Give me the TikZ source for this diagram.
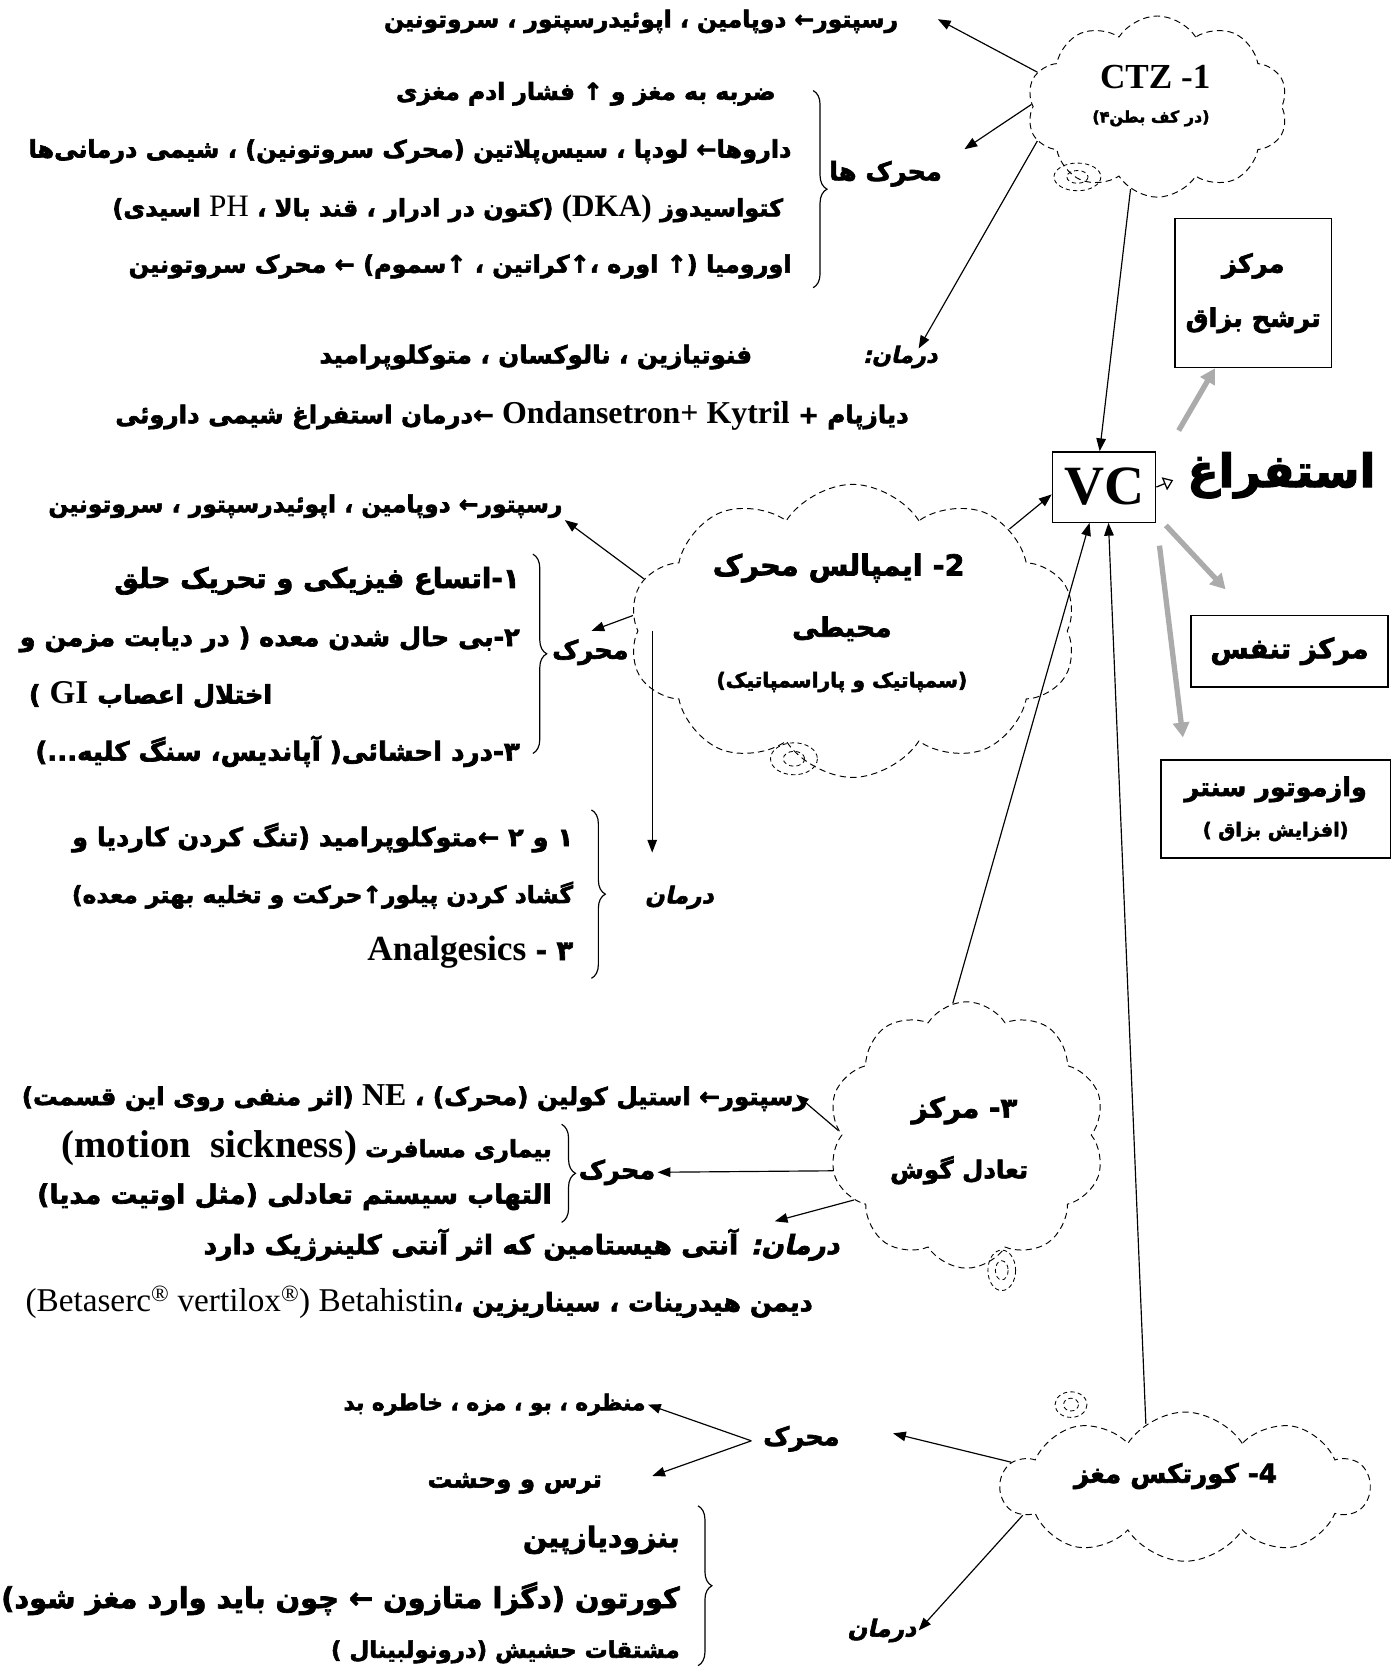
\documentclass[tikz,border=0pt]{standalone}
\usepackage{fontspec}
\setmainfont{Liberation Serif}
\newfontfamily\latin[Scale=1.3]{Liberation Serif}
\newfontfamily\fafont[Script=Arabic,BoldFeatures={FakeBold=2.5}]{DejaVu Sans}
\newfontfamily\faslant[Script=Arabic,FakeSlant=0.22,BoldFeatures={FakeBold=2.5}]{DejaVu Sans}
\TeXXeTstate=1
\usetikzlibrary{arrows.meta,shapes.symbols,decorations.pathreplacing}
\newcommand{\rtl}[1]{\beginR#1\endR}
\newcommand{\ltr}[1]{\beginL{\latin\bfseries#1}\endL}
\newcommand{\ltrn}[1]{\beginL{\latin\mdseries#1}\endL}
\tikzset{
  fs/.style={font=\fafont\bfseries\fontsize{#1}{#1}\selectfont, inner sep=2pt},
  darman/.style={font=\faslant\bfseries\fontsize{#1}{#1}\selectfont, inner sep=2pt},
  cloudy/.style={cloud, cloud puffs=10, cloud puff arc=115, draw,
    dash pattern=on 6pt off 4pt, line width=0.9pt, inner sep=0pt},
  puff/.style={dash pattern=on 4pt off 3pt, line width=0.8pt},
  box/.style={draw, line width=1.3pt, inner sep=0pt, align=center},
  arr/.style={-{Triangle[length=12pt,width=9pt]}, line width=1.1pt},
  grayarr/.style={-{Triangle[length=14pt,width=15pt]}, line width=5pt, black!33},
  curly/.style={decorate, decoration={brace, amplitude=13pt}, line width=1.1pt}
}
\begin{document}
\begin{tikzpicture}[x=1pt,y=-1pt]
\useasboundingbox (0,0) rectangle (1313,1568);

% ---------- VC and its outputs
\node[box, minimum width=97pt, minimum height=66pt,
  font=\bfseries\fontsize{52}{52}\selectfont] (vc) at (1036,457) {VC};
\node[fs=43, anchor=west] (vomit) at (1112,446) {\rtl{استفراغ}};
\draw[-{Triangle[open,length=9pt,width=13pt]}, line width=1.2pt, shorten >=12pt] (vc.east) -- (vomit.west);
\node[box, fs=24, minimum width=147pt, minimum height=140pt] (saliva) at (1176,275)
  {\rtl{مرکز}\\[26pt]\rtl{ترشح بزاق}};
\node[box, fs=26, minimum width=185pt, minimum height=67pt] (resp) at (1210,611) {\rtl{مرکز تنفس}};
\node[box, fs=24, minimum width=215pt, minimum height=92pt] (vaso) at (1197,759)
  {\rtl{وازموتور سنتر}\\[14pt]{\fontsize{18}{18}\selectfont\rtl{(افزایش بزاق  )}}};
\coordinate (g1) at (1106,404);
\coordinate (g2) at (1094,493);
\coordinate (g2end) at (1150,553);
\coordinate (g3) at (1088,512);
\coordinate (g3end) at (1110,692);
\draw[grayarr] (g1) -- (saliva.243);
\draw[grayarr] (g2) -- (g2end);
\draw[grayarr] (g3) -- (g3end);

% ---------- 1: CTZ
\node[cloudy, minimum width=245pt, minimum height=170pt] (ctz) at (1086,100) {};
\node[font=\bfseries\fontsize{33}{33}\selectfont] (ctzname) at (1084,72) {CTZ -1};
\node[fs=15] (ctzsub) at (1080,111) {\rtl{(در کف بطن۴)}};
\draw[puff] (1011,166) ellipse (22 and 13) (1011,166) ellipse (10 and 6);
\node[fs=22, anchor=east] (ctzrec) at (845,20) {\rtl{رسپتور← دوپامین ، اپوئیدرسپتور ، سروتونین}};
\node[fs=24, anchor=east] (ctzstim) at (886,163) {\rtl{محرک ها}};
\draw[curly] (763,85) -- (763,270);
\node[fs=22, anchor=east] (ctzl1) at (730,88) {\rtl{ضربه به مغز و ↑ فشار ادم مغزی}};
\node[fs=22.5, anchor=east] (ctzl2) at (745,142) {\rtl{داروها← لودپا ، سیس‌پلاتین (محرک سروتونین) ، شیمی درمانی‌ها}};
\node[fs=22.5, anchor=east] (ctzl3) at (737,196) {\rtl{کتواسیدوز \ltr{(DKA)} (کتون در ادرار ، قند بالا ، \ltrn{PH} اسیدی)}};
\node[fs=22.5, anchor=east] (ctzl4) at (745,250) {\rtl{اورومیا (↑ اوره ،↑کراتین ، ↑سموم) ← محرک سروتونین}};
\node[darman=21, anchor=east] (ctztreat) at (882,335) {\rtl{درمان:}};
\node[fs=23, anchor=east] (ctzdrugs) at (708,335) {\rtl{فنوتیازین ، نالوکسان ، متوکلوپرامید}};
\node[fs=23, anchor=east] (ctzchemo) at (855,390) {\rtl{دیازپام + \ltr{Ondansetron+ Kytril} ←درمان استفراغ شیمی داروئی}};
\coordinate (ctzrecend) at (880,18);
\coordinate (ctzstimend) at (905,140);
\coordinate (ctztreatend) at (862,327);
\draw[arr] (ctz.164) -- (ctzrecend);
\draw[arr] (ctz.179) -- (ctzstimend);
\draw[arr] (ctz.196) -- (ctztreatend);
\draw[arr] (ctz.252) -- (vc.97);

% ---------- 2: peripheral impulses
\node[cloudy, minimum width=420pt, minimum height=275pt] (imp) at (800,592) {};
\node[fs=27] (impname) at (787,533) {\rtl{2- ایمپالس محرک}};
\node[fs=25] (impname2) at (790,590) {\rtl{محیطی}};
\node[fs=19] (impsub) at (790,640) {\rtl{(سمپاتیک و پاراسمپاتیک)}};
\draw[puff] (745,712) ellipse (22 and 15) (745,712) ellipse (10 and 7);
\node[fs=22, anchor=east] (imprec) at (530,475) {\rtl{رسپتور← دوپامین ، اپوئیدرسپتور ، سروتونین}};
\node[fs=24, anchor=east] (impstim) at (592,612) {\rtl{محرک}};
\draw[curly] (500,520) -- (500,707);
\node[fs=26, anchor=east] (impl1) at (490,545) {\rtl{۱-اتساع فیزیکی و تحریک حلق}};
\node[fs=24, anchor=east] (impl2) at (490,600) {\rtl{۲-بی حال شدن معده ( در دیابت مزمن و}};
\node[fs=24, anchor=west] (impl2b) at (25,652) {\rtl{اختلال اعصاب \ltr{GI} )}};
\node[fs=24.5, anchor=east] (impl3) at (490,705) {\rtl{۳-درد احشائی( آپاندیس، سنگ کلیه...)}};
\coordinate (imprecend) at (530,488);
\coordinate (impstimend) at (555,592);
\coordinate (imptreatend) at (612,800);
\draw[arr] (imp.33) -- (vc.188);
\draw[arr] (imp.166) -- (imprecend);
\draw[arr] (imp.176) -- (impstimend);
\draw[arr] (imp.west -| imptreatend) -- (imptreatend);
\node[darman=22, anchor=east] (imptreat) at (672,842) {\rtl{درمان}};
\draw[curly] (555,760) -- (555,918);
\node[fs=24, anchor=east] (imptl1) at (540,786) {\rtl{۱ و ۲ ←متوکلوپرامید (تنگ کردن کاردیا و}};
\node[fs=22, anchor=east] (imptl2) at (540,840) {\rtl{گشاد کردن پیلور↑حرکت و تخلیه بهتر معده)}};
\node[fs=25.5, anchor=east] (imptl3) at (540,893) {\rtl{۳ - \ltr{Analgesics}}};

% ---------- 3: ear balance centre
\node[cloudy, minimum width=260pt, minimum height=250pt] (ear) at (907,1065) {};
\node[fs=26] (earname) at (905,1042) {\rtl{۳- مرکز}};
\node[fs=23] (earname2) at (900,1098) {\rtl{تعادل گوش}};
\draw[puff] (940,1192) ellipse (13 and 19) (940,1192) ellipse (6 and 9);
\node[fs=23, anchor=east] (earrec) at (760,1030) {\rtl{رسپتور← استیل کولین (محرک) ، \ltr{NE} (اثر منفی روی این قسمت)}};
\node[fs=24, anchor=east] (earstim) at (617,1100) {\rtl{محرک}};
\draw[curly] (527,1055) -- (527,1147);
\node[fs=22, anchor=east] (earl1) at (520,1077) {\rtl{بیماری مسافرت {\fontsize{28}{28}\selectfont\ltr{(motion\ \ sickness)}}}};
\node[fs=25, anchor=east] (earl2) at (520,1123) {\rtl{التهاب  سیستم تعادلی (مثل اوتیت مدیا)}};
\node[fs=25, anchor=east] (eartreat) at (790,1168) {\rtl{{\faslant درمان:} آنتی هیستامین که اثر آنتی کلینرژیک دارد}};
\node[fs=24, anchor=east] (eardrugs) at (765,1222) {\rtl{دیمن هیدرینات ، سیناریزین ،\ltrn{(Betaserc\textsuperscript{®} vertilox\textsuperscript{®}) Betahistin}}};
\coordinate (earrecend) at (747,1027);
\coordinate (eartreatend) at (727,1146);
\draw[arr] (ear.96) -- (vc.248);
\draw[arr] (ear.178) -- (earrecend);
\draw[arr] (ear.195) -- (earstim.east);
\draw[arr] (ear.210) -- (eartreatend);

% ---------- 4: cortex
\node[cloudy, minimum width=345pt, minimum height=140pt] (cortex) at (1112,1395) {};
\node[fs=24.5] (cortexname) at (1103,1385) {\rtl{4- کورتکس مغز}};
\draw[puff] (1005,1318) ellipse (15 and 12) (1005,1318) ellipse (7 and 6);
\node[fs=24, anchor=east] (cortexstim) at (790,1350) {\rtl{محرک}};
\node[fs=20.5, anchor=east] (cortexl1) at (608,1318) {\rtl{منظره ، بو ، مزه ، خاطره بد}};
\node[fs=23, anchor=east] (cortexl2) at (567,1392) {\rtl{ترس و وحشت}};
\coordinate (cortexstimend) at (838,1345);
\coordinate (cortexfork) at (705,1352);
\coordinate (cortexl2end) at (612,1385);
\draw[arr] (cortex.122) -- (vc.277);
\draw[arr] (cortex.172) -- (cortexstimend);
\draw[arr] (cortexfork) -- (cortexl1.east);
\draw[arr] (cortexfork) -- (cortexl2end);
\node[darman=22, anchor=east] (cortextreat) at (862,1530) {\rtl{درمان}};
\draw[arr] (cortex.190) -- (cortextreat.east);
\draw[curly] (655,1413) -- (655,1563);
\node[fs=26.5, anchor=east] (cortextl1) at (640,1445) {\rtl{بنزودیازپین}};
\node[fs=27, anchor=east] (cortextl2) at (640,1500) {\rtl{کورتون (دگزا متازون ← چون باید وارد مغز شود)}};
\node[fs=21.5, anchor=east] (cortextl3) at (640,1550) {\rtl{مشتقات حشیش (درونولبینال )}};
\end{tikzpicture}
\end{document}
